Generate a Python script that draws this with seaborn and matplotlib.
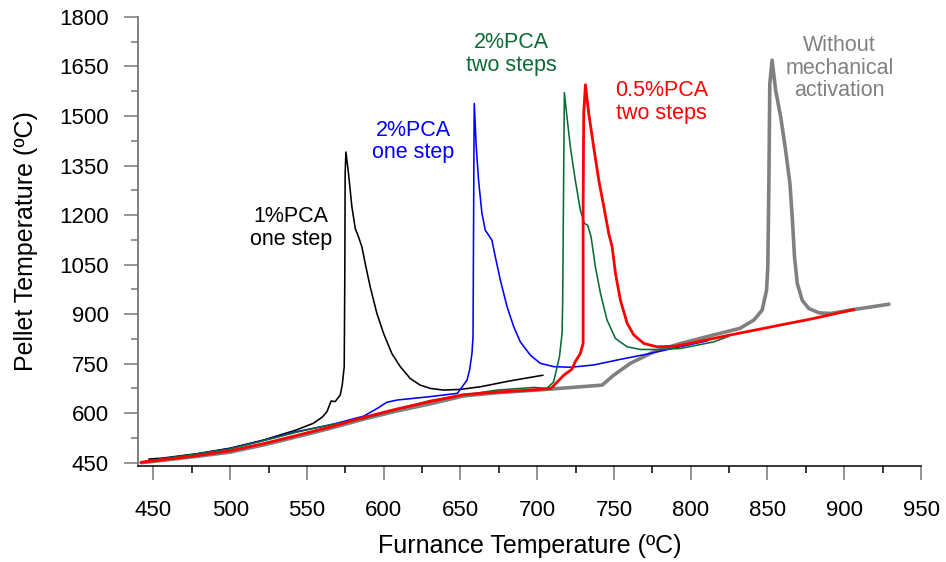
import pandas as pd
import matplotlib
matplotlib.use("Agg")
import matplotlib.pyplot as plt
from matplotlib.ticker import MultipleLocator
import seaborn as sns

# furnace temperature (x) / pellet temperature (y)
t_1pca_one = [447, 456, 478, 500, 522, 543, 554, 560, 563, 565.8, 568.4, 571.7, 573, 574.3,
              574.7, 574.9, 575.4, 577.1, 579.3, 581.5, 583.6, 585.8, 588, 591.2, 595.6, 599.9,
              605.3, 610.8, 617.3, 623.8, 630.4, 639, 649.9, 663, 682.5, 703.8]
p_1pca_one = [461, 464, 477, 494, 519, 549, 569, 588, 604, 637, 635, 655, 685, 740,
              1023, 1326, 1391, 1326, 1225, 1159, 1134, 1104, 1053, 983, 902, 842,
              781, 741, 705, 685, 675, 670, 672, 680, 698, 715]

t_2pca_one = [443, 456, 478, 500, 522, 543, 565, 587, 596, 602, 609, 630, 648, 654.3, 656,
              657.5, 658.2, 658.8, 659, 660.3, 661.8, 664, 666.2, 668.4, 670.5, 672.7, 676,
              680.4, 684.7, 689, 695.5, 702, 710.7, 721.6, 736.8, 754.2, 771.6, 790, 810.7]
p_2pca_one = [452, 462, 476, 493, 518, 544, 564, 591, 615, 633, 640, 650, 660, 700, 732,
              781, 831, 1400, 1538, 1406, 1306, 1205, 1154, 1139, 1124, 1074, 1003,
              922, 862, 816, 776, 751, 741, 739, 746, 763, 779, 798, 819]

t_2pca_two = [444, 456, 478, 500, 522, 543, 565, 587, 608, 630, 652, 674, 698, 706.4, 710.7,
              714.5, 716.2, 716.6, 717.2, 717.7, 719.4, 721.6, 724.8, 728.1, 730.7, 732.9, 735.1,
              737.9, 741.2, 745.5, 751, 758.6, 767.3, 780.4, 793.3, 815, 824.8]
p_2pca_two = [452, 462, 476, 492, 517, 542, 565, 584, 610, 638, 655, 670, 678, 675, 695,
              771, 842, 942, 1300, 1571, 1497, 1406, 1306, 1215, 1175, 1169, 1134,
              1043, 963, 882, 826, 801, 793, 793, 796, 816, 833]

t_05pca_two = [442, 456, 478, 500, 522, 543, 565, 587, 608, 630, 652, 674, 696, 709, 717.3,
               722.6, 724.8, 728.1, 729.9, 729.9, 730.3, 731.4, 733.6, 736.8, 740.1, 743.4,
               746.6, 748.8, 751, 754.2, 758.6, 762.9, 769.5, 778.1, 790, 804.2, 825.9, 858.5,
               880.2, 906.3]
p_05pca_two = [451, 459, 471, 486, 508, 532, 558, 587, 612, 635, 656, 664, 670, 675, 715,
               733, 756, 781, 811, 1205, 1507, 1595, 1507, 1406, 1306, 1225,
               1144, 1104, 1023, 942, 872, 837, 811, 801, 803, 816, 837, 867,
               887, 914]

t_without = [442, 456, 478, 500, 522, 543, 565, 587, 608, 630, 652, 674, 706, 742.3, 749.8,
             760.7, 776, 793.3, 815, 832.1, 841.1, 846.5, 849.4, 850.2, 850.9, 851.5, 853,
             855.3, 858.6, 861.8, 864.6, 866.1, 867.6, 869.4, 872.6, 876.9, 883.5, 891.1, 906.3,
             929.1]
p_without = [450, 457, 469, 482, 504, 528, 554, 582, 606, 628, 652, 662, 672, 685, 715,
             751, 786, 811, 837, 857, 882, 912, 973, 1043, 1296, 1598, 1669,
             1578, 1497, 1396, 1296, 1195, 1073, 993, 942, 917, 904, 902, 914,
             930]

series = [
    (t_without, p_without, "#808080", 2.6),
    (t_1pca_one, p_1pca_one, "black", 1.15),
    (t_2pca_one, p_2pca_one, "#0000ff", 1.15),
    (t_2pca_two, p_2pca_two, "#0b6b35", 1.15),
    (t_05pca_two, p_05pca_two, "#ff0000", 2.0),
]

sns.set_style("ticks")
plt.rcParams['font.family'] = ['Liberation Sans', 'DejaVu Sans']

fig = plt.figure(figsize=(9.46, 5.62), dpi=100)
ax = fig.add_axes([0.1459, 0.1708, 0.8277, 0.799])

for t, p, col, lw in series:
    df = pd.DataFrame({"furnace": t, "pellet": p})
    sns.lineplot(data=df, x="furnace", y="pellet", sort=False, estimator=None,
                 color=col, linewidth=lw, ax=ax)

# labels next to the peaks
kw = dict(fontsize=15.5, ha="center", va="center", linespacing=1.1)
ax.text(539.7, 1160, "1%PCA\none step", color="black", **kw)
ax.text(619.5, 1423, "2%PCA\none step", color="#0000ff", **kw)
ax.text(683, 1687, "2%PCA\ntwo steps", color="#0b6b35", **kw)
ax.text(781, 1543, "0.5%PCA\ntwo steps", color="#ff0000", **kw)
ax.text(897, 1645, "Without\nmechanical\nactivation", color="#808080", **kw)

ax.set_xlim(440, 950)
ax.set_ylim(440, 1800)
ax.xaxis.set_major_locator(MultipleLocator(50))
ax.xaxis.set_minor_locator(MultipleLocator(25))
ax.yaxis.set_major_locator(MultipleLocator(150))
ax.yaxis.set_minor_locator(MultipleLocator(75))
ax.set_xticks(range(450, 951, 50))
ax.set_yticks(range(450, 1801, 150))

ax.set_xlabel("Furnance Temperature (ºC)", fontsize=18, labelpad=9.5, color="black")
ax.set_ylabel("Pellet Temperature (ºC)", fontsize=18, labelpad=15, color="black")

ax.tick_params(axis="both", which="major", direction="out", length=10, width=1.1,
               labelsize=16, labelcolor="black")
ax.tick_params(axis="both", which="minor", direction="out", length=5, width=1.1)
ax.tick_params(axis="x", which="major", color="#777777", pad=14.5)
ax.tick_params(axis="x", which="minor", color="black")
ax.tick_params(axis="y", which="both", color="#777777")
ax.tick_params(axis="y", which="major", pad=11)

sns.despine(ax=ax)
ax.spines["left"].set_color("#777777")
ax.spines["left"].set_linewidth(1.3)
ax.spines["bottom"].set_color("black")
ax.spines["bottom"].set_linewidth(1.1)

fig.savefig("out.png", dpi=100)
